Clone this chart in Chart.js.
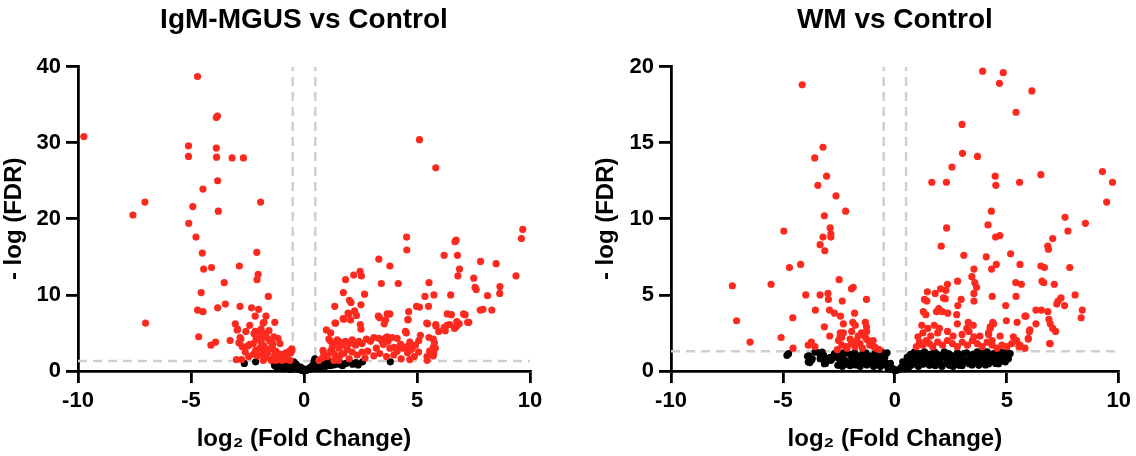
<!DOCTYPE html>
<html>
<head>
<meta charset="utf-8">
<script src="https://cdn.jsdelivr.net/npm/chart.js@4.4.1/dist/chart.umd.min.js"></script>
<style>
  html, body { margin: 0; padding: 0; background: #fff; }
  #wrap { position: relative; width: 1136px; height: 456px; }
  .panel { position: absolute; top: 0; width: 568px; height: 456px; }
</style>
</head>
<body>
<div id="wrap">
  <div class="panel" style="left:0"><canvas id="mgus" width="568" height="456"></canvas></div>
  <div class="panel" style="left:568px"><canvas id="wm" width="568" height="456"></canvas></div>
</div>
<script>
// tick labels
const xTicks = [-10, -5, 0, 5, 10];
const mgusYTicks = [0, 10, 20, 30, 40];
const wmYTicks = [0, 5, 10, 15, 20];

// cut-offs (log2 FC and -log FDR)
const fcCut = 0.5;
const fdrCut = 1.3;

// IgM-MGUS vs Control : [log2 FC, -log FDR]
const mgusSig = [
  [-4.71,38.7],[-9.74,30.8],[-3.88,33.3],[-3.83,33.5],[-5.11,29.6],[-5.11,28.2],[-3.88,29.3],[-3.87,28.1],
  [-3.18,28.0],[-2.68,28.0],[-3.82,25.0],[-4.47,23.9],[-7.04,22.2],[-1.92,22.2],[-4.92,21.6],[-3.79,21.0],
  [-7.57,20.5],[-5.10,19.4],[-4.78,17.6],[-4.50,15.5],[-2.09,15.6],[-4.44,13.4],[-4.09,13.6],[-2.86,13.8],
  [-2.03,12.7],[-2.08,12.0],[-3.53,11.6],[-4.55,10.3],[-1.58,9.8],[-3.48,8.8],[-3.82,8.3],[-2.83,8.5],
  [-2.32,8.3],[-2.01,8.1],[-4.71,8.0],[-4.47,7.8],[-1.68,7.2],[-2.16,7.2],[-7.01,6.3],[-1.29,6.4],
  [-1.81,6.3],[-3.04,6.2],[-2.96,5.4],[-2.57,5.2],[-2.16,5.2],[-4.66,4.5],[-4.12,3.4],[-3.91,3.8],
  [-3.27,4.0],[-2.83,4.4],[-2.88,3.7],[-2.40,3.5],
  [-2.94,5.5],[-2.79,4.2],[-2.73,3.2],[-2.99,1.5],[-2.76,1.5],[-2.48,3.3],[-2.24,3.6],[-2.12,4.2],
  [-1.90,5.5],[-1.77,6.4],[-1.99,5.2],[-2.21,4.9],[-1.92,4.4],[-1.70,4.9],[-1.62,4.3],[-1.50,3.9],
  [-1.33,4.5],[-1.15,4.3],[-1.06,3.6],[-1.77,3.3],[-1.95,3.0],[-2.14,2.7],[-2.24,2.2],[-2.06,2.0],
  [-1.84,2.2],[-1.62,2.4],[-1.47,2.9],[-1.33,2.0],[-1.21,2.4],[-1.03,2.2],[-0.91,1.9],[-0.74,2.1],
  [-0.59,2.4],[-0.77,1.5],[-0.96,1.4],[-1.11,1.5],[-1.25,1.4],[-1.45,1.4],[-1.65,1.8],[-1.80,1.4],
  [-0.62,1.4],[-0.53,2.7],[-1.25,2.6],[-1.00,2.2],[-0.80,2.4],[-0.64,2.6],[-0.54,2.9],[-1.40,3.3],
  [-1.70,2.9],[-2.45,1.9],[-2.60,2.5],[-1.90,3.8],[-1.55,5.3],[-2.40,6.0],[-1.38,3.6],
  [5.11,30.4],[5.83,26.7],[9.68,18.6],[9.62,17.4],[4.54,17.6],[6.68,17.0],[6.73,17.2],[4.55,15.9],
  [6.20,15.2],[6.79,15.2],[3.31,14.7],[7.81,14.4],[8.50,14.1],[3.80,13.8],[6.88,13.4],[2.48,13.1],
  [2.54,12.5],[2.20,12.6],[1.84,12.0],[6.81,12.5],[9.38,12.5],[7.51,12.2],[3.42,11.5],[4.17,11.5],
  [5.53,11.6],[7.57,11.0],[7.62,10.7],[8.67,11.1],[1.74,10.3],[2.68,10.1],[8.66,10.2],[5.35,9.8],
  [5.75,10.0],[6.49,10.0],[8.12,9.9],[2.01,9.3],[2.08,9.0],[2.52,8.7],[1.36,8.5],[4.98,8.5],
  [5.11,8.4],[5.51,8.5],[7.80,8.0],[7.92,8.1],[8.31,8.0],[4.63,7.8],[1.95,7.6],[2.24,7.9],
  [2.32,7.3],[3.80,7.5],[3.29,7.2],[6.34,7.5],[6.52,7.4],[7.06,7.5],[3.61,6.7],[1.73,6.9],
  [4.60,6.8],[5.43,6.3],[3.55,6.2],[1.37,6.3],[2.49,6.1],[2.52,5.5],[7.24,6.4],[6.76,6.5],
  [6.87,6.2],[6.66,5.6],[6.76,5.9],[6.33,6.0],[6.25,5.3],[5.83,6.1],[5.96,5.2],[5.72,4.2],
  [5.77,3.7],[5.72,3.1],[5.56,2.6],[5.72,2.0],[5.45,1.4],[5.53,4.4],[5.08,4.0],[4.49,5.2],
  [4.68,3.8],[4.79,3.0],[4.58,2.4],[4.68,1.5],[4.28,3.5],[4.12,2.6],[3.99,3.1],[3.58,4.3],
  [3.72,3.9],[3.80,3.0],[3.51,3.5],
  [1.10,4.2],[1.18,3.9],[1.32,3.6],[1.47,4.1],[1.59,3.8],[1.69,3.4],[1.84,3.9],[1.99,3.6],
  [2.13,4.1],[2.28,3.4],[2.43,3.9],[2.57,3.6],[2.76,4.2],[2.94,3.9],[3.09,4.4],[3.31,4.3],
  [3.46,3.9],[3.68,4.5],[3.90,4.4],[4.12,4.3],[4.26,3.4],[4.41,3.0],[4.56,3.2],[4.74,2.8],
  [4.88,1.9],[4.12,2.8],[3.97,2.1],[3.65,1.9],[3.35,2.3],[3.09,2.0],[2.82,2.6],[2.57,2.5],
  [2.35,2.1],[2.13,2.5],[1.91,2.8],[1.76,2.3],[1.62,2.1],[1.47,1.7],[1.32,2.3],[1.18,2.6],
  [1.03,1.9],[0.81,1.7],[0.66,1.4],[0.88,2.3],[1.32,1.4],[1.54,1.4],[0.84,2.7],[0.99,5.4],
  [1.18,5.0],[1.40,6.3],[1.76,6.8],[5.44,1.9],[5.74,2.3],[5.81,3.0],[5.07,2.5],[4.93,3.4],
  [5.15,4.7],[2.06,6.7],[1.99,7.5],[3.35,7.0],[3.68,7.5],[4.60,6.7],[4.53,5.0],[5.47,6.2],
  [5.84,5.9],[6.20,5.7],[6.45,6.1],[7.29,6.4],[7.13,7.4],[1.55,3.0],[2.00,1.6],[2.70,1.7],
  [3.20,3.0],[4.30,1.6],[1.25,3.1]
];
const mgusNs = [
  [-2.64,1.0],[-2.14,1.2],[-1.33,1.1],[-1.25,0.9],[-1.18,1.2],[-1.10,0.8],[-1.05,1.0],[-1.00,0.6],
  [-0.95,1.2],[-0.90,0.9],[-0.85,0.5],[-0.80,1.1],[-0.75,0.8],[-0.70,0.4],[-0.68,1.2],[-0.62,0.7],
  [-0.58,1.0],[-0.55,0.5],[-0.50,0.3],[-0.45,1.2],[-0.42,0.8],[-0.38,0.5],[-0.33,0.3],[-0.28,0.6],
  [-0.25,0.2],[-0.20,0.4],[-0.15,0.15],[-0.10,0.1],[-0.05,0.05],[0,0],[0.05,0.05],[0.10,0.1],
  [0.15,0.15],[0.20,0.3],[0.25,0.2],[0.30,0.5],[0.35,0.3],[0.40,0.8],[0.45,1.3],[0.48,1.6],
  [0.50,0.6],[0.55,1.1],[0.60,0.4],[0.65,0.9],[0.70,1.2],[0.75,0.5],[0.80,0.8],[0.90,1.1],
  [0.95,0.6],[1.00,0.9],[1.10,1.2],[1.15,0.7],[1.20,1.0],[1.30,0.8],[1.40,1.2],[1.50,0.9],
  [1.60,1.1],[1.70,0.7],[1.85,1.0],[2.00,1.2],[2.15,0.9],[2.30,1.1],[2.40,0.8],[2.59,1.2],
  [3.82,1.2],[-1.20,0.5],[-0.90,0.3],[-0.60,0.2],[-1.30,0.7],[-0.35,0.9],[-0.15,0.5],[-0.05,0.3]
];

// WM vs Control : [log2 FC, -log FDR]
const wmSig = [
  [-4.14,18.8],[-3.21,14.7],[-3.58,14.0],[-3.05,12.8],[-3.44,12.2],[-2.63,11.5],[-2.20,10.5],[-3.15,10.2],
  [-2.89,9.4],[-2.86,9.0],[-2.86,8.8],[-3.21,8.8],[-3.34,8.3],[-3.13,7.9],[-4.96,9.2],[-4.71,6.8],
  [-4.21,7.0],[-7.26,5.6],[-5.53,5.7],[-2.49,6.0],[-7.07,3.3],[-6.47,1.9],[-5.08,2.2],[-4.56,3.5],
  [-4.55,1.5],[-3.98,5.0],[-3.34,5.0],[-2.99,5.1],[-2.97,4.7],[-3.55,4.0],[-2.92,4.0],[-2.70,3.8],
  [-2.35,4.6],[-1.94,5.4],[-1.86,5.5],[-1.27,4.7],[-2.43,3.6],[-1.80,3.8],[-3.15,2.9],[-2.30,3.1],
  [-1.88,3.2],[-1.77,3.0],[-1.32,3.2],[-1.27,2.9],[-1.26,2.6],[-2.91,2.3],[-2.44,2.5],[-2.38,2.2],
  [-3.73,1.9],[-3.57,1.6],[-3.87,1.7],[-2.57,1.4],[-2.14,1.5],
  [-1.12,1.7],[-1.05,1.9],[-1.19,2.0],[-1.34,2.25],[-1.56,1.8],[-1.71,2.0],[-1.78,1.6],[-1.93,1.8],
  [-2.15,1.6],[-2.37,1.7],[-2.52,2.0],[-2.45,2.25],[-2.30,2.5],[-1.93,2.6],[-1.64,2.3],[-1.49,2.5],
  [-1.27,2.1],[-0.97,2.0],[-0.93,1.6],[-0.70,1.4],[-0.85,1.5],[-1.45,1.5],[-2.00,2.1],
  [3.92,19.7],[4.84,19.6],[4.67,18.9],[5.41,17.0],[6.12,18.4],[3.00,16.2],[3.02,14.3],[3.69,14.1],
  [2.55,13.4],[1.65,12.4],[2.30,12.4],[4.48,12.8],[4.51,12.2],[5.57,12.4],[6.52,12.9],[9.27,13.1],
  [9.72,12.4],[9.46,11.1],[4.31,10.5],[2.31,9.4],[4.16,9.6],[4.69,8.9],[4.50,8.8],[2.07,8.2],
  [3.08,7.6],[4.08,7.5],[5.17,7.7],[5.59,7.0],[4.53,7.0],[4.32,6.7],[3.53,6.7],[7.60,10.1],
  [7.73,9.2],[8.51,9.7],[7.05,8.7],[6.83,8.2],[6.86,8.0],[7.81,6.8],[6.52,6.9],[6.68,6.8],
  [3.44,6.2],[3.57,5.8],[3.65,5.5],[2.80,5.9],[2.35,5.7],[2.28,5.3],[2.04,5.4],[1.80,5.1],
  [1.45,5.2],[5.40,5.8],[5.65,5.7],[6.57,5.9],[6.65,5.8],[7.12,5.7],[4.35,4.9],[5.41,4.9],
  [3.53,5.1],[3.53,4.6],[2.96,4.7],[2.17,4.8],[2.25,4.75],[1.32,4.7],[1.43,4.6],[4.95,4.3],
  [7.29,4.6],[7.42,4.8],[7.23,4.4],[7.58,4.3],[8.05,5.0],[8.37,4.0],[8.32,3.5],[6.30,4.0],
  [6.54,4.0],[6.83,3.9],[5.85,3.6],[5.46,3.2],[6.30,3.1],[6.88,3.4],[6.94,3.1],[7.05,2.8],
  [7.18,2.6],[6.01,2.6],[5.96,2.1],[6.94,1.8],[4.98,3.3],[4.37,3.2],[4.26,2.8],[4.18,2.5],
  [3.28,3.2],[3.21,2.8],[2.76,3.7],[2.81,4.3],[2.12,3.9],[2.36,3.8],[1.96,4.1],[1.86,3.9],
  [1.27,3.9],[1.38,3.7],
  [0.96,1.6],[1.10,1.9],[1.25,1.7],[1.40,2.0],[1.54,1.8],[1.69,1.6],[1.91,1.9],[2.13,1.7],
  [2.35,2.0],[2.57,1.8],[2.79,1.6],[3.01,1.9],[3.24,1.7],[3.46,2.0],[3.68,1.8],[3.90,1.6],
  [4.12,1.9],[4.34,1.7],[4.56,1.5],[4.78,1.7],[5.00,1.6],[5.22,1.8],[5.44,2.0],[5.59,1.7],
  [5.81,1.5],[1.03,2.25],[1.25,2.5],[1.47,2.8],[1.76,3.0],[1.99,2.8],[1.91,2.5],[2.35,2.6],
  [2.79,3.1],[3.31,2.6],[3.53,2.25],[4.26,2.9],[4.41,3.1],[4.19,2.4],[4.34,2.0],[5.29,2.25],
  [5.37,2.0],[5.54,1.6],[5.96,2.15],[6.03,2.7],[5.81,3.6],[6.91,1.8],[1.60,2.3],[1.20,3.0],
  [2.60,2.3],[3.00,2.4],[3.80,2.3],[4.70,2.3],[3.50,3.0]
];
const wmNs = [
  [-4.75,1.14],[-4.82,1.03],[-3.90,0.97],[-3.87,0.59],[-3.73,0.70],[-3.50,1.25],[-3.34,0.81],[-3.18,1.03],
  [-3.02,0.81],[-2.86,0.70],[-2.70,1.14],[-3.15,0.48],[-2.43,0.48],[-2.30,1.19],
  [-3.84,1.0],[-3.81,0.55],[-3.69,0.8],[-3.57,1.25],[-3.32,1.0],[-3.25,1.25],[-3.17,0.8],[-3.10,0.5],
  [-2.88,0.9],[-2.81,0.8],[-2.55,0.37],[-2.45,0.59],[-2.30,1.10],[-2.23,0.70],[-2.08,0.59],[-1.93,0.93],
  [-1.71,0.81],[-1.64,0.59],[-1.42,1.15],[-1.34,0.93],[-1.19,0.70],[-1.05,0.93],[-0.90,1.15],[-0.75,0.81],
  [-0.68,0.59],[-0.53,0.48],[-0.38,0.37],[-0.24,0.26],[-0.09,0.15],
  [-2.60,0.9],[-2.50,1.1],[-2.40,0.8],[-2.35,0.3],[-2.20,1.2],[-2.15,0.45],[-2.00,1.1],[-2.00,0.35],
  [-1.85,0.7],[-1.80,1.2],[-1.75,0.4],[-1.60,1.0],[-1.55,0.3],[-1.50,0.75],[-1.45,0.5],[-1.30,1.2],
  [-1.25,0.4],[-1.15,1.0],[-1.10,0.5],[-1.00,0.75],[-0.95,0.3],[-0.85,1.0],[-0.80,0.45],[-0.70,0.95],
  [-0.65,0.3],[-0.60,1.25],[-0.55,0.7],[-0.45,0.9],[-0.42,0.55],[-0.35,1.2],[-0.30,0.2],[-0.20,0.5],
  [-0.15,0.1],[0,0.02],[0.08,0.05],
  [0.29,0.26],[0.51,0.48],[0.66,0.70],[0.81,0.81],[0.96,1.04],[0.88,1.26],[1.10,1.15],[1.32,1.26],
  [1.47,0.93],[1.62,1.10],[1.76,1.26],[1.91,0.81],[2.06,1.04],[2.21,1.26],[2.35,0.70],[2.50,1.04],
  [2.65,0.93],[2.79,1.19],[2.94,0.81],[3.09,1.15],[3.24,0.59],[3.38,1.04],[3.53,0.81],[3.68,1.26],
  [3.82,0.70],[3.97,1.04],[4.12,1.26],[4.26,0.81],[4.41,1.15],[4.56,0.70],[4.71,1.26],[4.85,0.93],
  [5.00,1.26],[5.15,1.15],[5.07,0.81],[4.93,0.59],[4.63,0.48],[4.19,0.48],[3.75,0.37],[3.31,0.48],
  [2.87,0.37],[2.43,0.37],[1.99,0.48],[1.54,0.37],[1.18,0.59],[0.96,0.48],[0.74,0.37],[0.44,0.15],
  [0.15,0.09],
  [0.35,0.6],[0.55,0.9],[0.60,0.2],[0.70,1.1],[0.85,0.5],[1.00,0.75],[1.05,0.3],[1.20,0.9],
  [1.25,0.45],[1.40,0.6],[1.45,1.1],[1.60,0.5],[1.70,0.8],[1.80,0.35],[1.85,1.15],[2.00,0.7],
  [2.10,0.3],[2.20,0.9],[2.30,0.5],[2.40,1.15],[2.55,0.6],[2.60,0.3],[2.70,0.8],[2.85,0.55],
  [2.90,1.0],[3.00,0.35],[3.10,0.75],[3.20,1.2],[3.30,0.75],[3.45,0.4],[3.50,1.1],[3.60,0.6],
  [3.70,0.95],[3.85,0.5],[3.90,1.2],[4.00,0.7],[4.05,0.4],[4.20,1.0],[4.30,0.6],[4.45,0.9],
  [4.50,0.5],[4.60,1.1],[4.75,0.75],[4.80,1.2],[4.90,0.7],[5.05,1.0]
];

const FONT = '"Liberation Sans", Arial, Helvetica, sans-serif';
const RED = '#fc2a1e';
const GUIDE = '#cfcfcf';

Chart.defaults.color = '#000';
Chart.defaults.font.family = FONT;

function toPts(arr) {
  return arr.map(p => ({ x: p[0], y: p[1] }));
}

function guide(points) {
  return {
    data: points,
    showLine: true,
    borderColor: GUIDE,
    borderWidth: 2.5,
    borderDash: [9, 6],
    pointRadius: 0,
    order: 5
  };
}

function volcano(id, opt) {
  const yMax = opt.yTicks[opt.yTicks.length - 1];
  const tickFont = { family: FONT, weight: 'bold', size: 22 };
  const titleFont = { family: FONT, weight: 'bold', size: 24 };

  return new Chart(document.getElementById(id), {
    type: 'scatter',
    data: {
      datasets: [
        { data: toPts(opt.sig), backgroundColor: RED, pointRadius: 3.6, borderWidth: 0, order: 1, clip: false },
        { data: toPts(opt.ns), backgroundColor: '#000', pointRadius: 3.6, borderWidth: 0, order: 2, clip: false },
        guide([{ x: -fcCut, y: 0 }, { x: -fcCut, y: yMax }]),
        guide([{ x: fcCut, y: 0 }, { x: fcCut, y: yMax }]),
        guide([{ x: -10, y: fdrCut }, { x: 10, y: fdrCut }])
      ]
    },
    options: {
      responsive: false,
      animation: false,
      layout: { padding: { left: 0, right: opt.padRight, top: 0, bottom: 0 } },
      plugins: {
        legend: { display: false },
        tooltip: { enabled: false },
        title: {
          display: true,
          text: opt.title,
          fullSize: false,
          color: '#000',
          font: { family: FONT, weight: 'bold', size: 28 },
          padding: { top: 3, bottom: 30 }
        }
      },
      scales: {
        x: {
          type: 'linear',
          min: -10,
          max: 10,
          afterBuildTicks: s => { s.ticks = xTicks.map(v => ({ value: v })); },
          afterFit: s => { s.height = 85; },
          ticks: { font: tickFont, color: '#000', padding: 5, maxRotation: 0, autoSkip: false, callback: v => String(v) },
          grid: { drawOnChartArea: false, color: '#000', lineWidth: 2.8, tickLength: 12 },
          border: { color: '#000', width: 2.8 },
          title: { display: true, text: 'log₂ (Fold Change)', color: '#000', font: titleFont, padding: { top: 0, bottom: 2 } }
        },
        y: {
          type: 'linear',
          min: 0,
          max: yMax,
          afterBuildTicks: s => { s.ticks = opt.yTicks.map(v => ({ value: v })); },
          afterFit: s => { s.width = opt.yWidth; },
          ticks: { font: tickFont, color: '#000', padding: 5, autoSkip: false, callback: v => String(v) },
          grid: { drawOnChartArea: false, color: '#000', lineWidth: 2.8, tickLength: 12 },
          border: { color: '#000', width: 2.8 },
          title: { display: true, text: '- log (FDR)', color: '#000', font: titleFont, padding: { top: opt.yTitlePad, bottom: 0 } }
        }
      }
    }
  });
}

volcano('mgus', {
  title: 'IgM-MGUS vs Control',
  sig: mgusSig,
  ns: mgusNs,
  yTicks: mgusYTicks,
  yWidth: 78,
  padRight: 38,
  yTitlePad: 0
});

volcano('wm', {
  title: 'WM vs Control',
  sig: wmSig,
  ns: wmNs,
  yTicks: wmYTicks,
  yWidth: 103,
  padRight: 13,
  yTitlePad: 24
});
</script>
</body>
</html>
